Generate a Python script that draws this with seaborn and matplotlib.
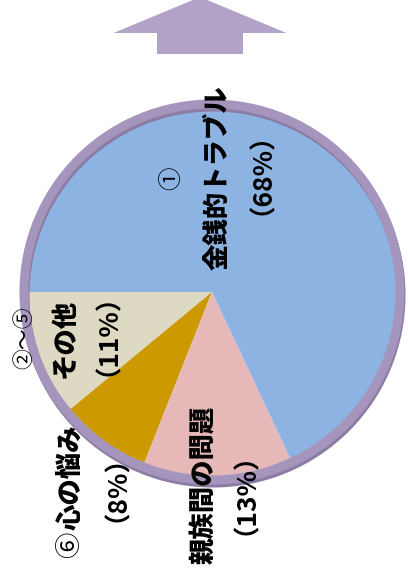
import matplotlib
matplotlib.use("Agg")
import matplotlib.pyplot as plt
from matplotlib.patches import Circle
import seaborn as sns

# data (slices in drawing order, counter-clockwise from the left)
numbers = ["②～⑤", "⑥", "", "①"]
categories = ["その他", "心の悩み", "親族間の問題", "金銭的トラブル"]
shares = [11, 8, 13, 68]
colors = ["#ddd9c3", "#cc9900", "#e6b9b8", "#8db3e2"]

sns.set_theme(style="white")
plt.rcParams['font.family'] = ['Noto Sans CJK JP', 'DejaVu Sans']
plt.rcParams['text.color'] = 'black'

W, H = 408, 573
fig = plt.figure(figsize=(W / 100, H / 100), dpi=100)
ax = fig.add_axes([0, 0, 1, 1])

cx, cy, r = 212, 292, 184
ax.pie(shares, colors=colors, startangle=180, counterclock=False,
       center=(cx, cy), radius=r, wedgeprops=dict(linewidth=0))
ax.set_xlim(0, W)
ax.set_ylim(H, 0)
ax.set_aspect('equal')
ax.axis('off')

# purple rim around the pie
ax.add_patch(Circle((cx + 1, cy + 3), r + 4, fill=False, ec="#8a7ca3", lw=6.5, zorder=3))
ax.add_patch(Circle((cx, cy), r + 4, fill=False, ec="#a595bd", lw=6.5, zorder=4))

# arrow on top
ax.arrow(200, 54, 0, -57, width=86, head_width=173, head_length=36,
         length_includes_head=True, color="#b3a2c7", lw=0, zorder=2)

# label positions (pixel coords): number, name, percent
pos = [
    ((24, 338), (64, 338), (94, 321)),
    ((70, 545), (70, 477), (103, 475)),
    (None, (204, 485), (232, 480)),
    ((172, 178), (217, 178), (248, 160)),
]
num_size = [15, 19, 0, 17]

for num, cat, val, (pn, pc, pp), ns in zip(numbers, categories, shares, pos, num_size):
    if num:
        ax.text(*pn, num, rotation=90, fontsize=ns, ha='center', va='center', zorder=5)
    ax.text(*pc, cat, rotation=90, fontsize=19, fontweight='heavy', ha='center', va='center', zorder=5)
    ax.text(*pp, f"（{val}%）", rotation=90, fontsize=19, fontweight='bold', ha='center', va='center', zorder=5)

fig.savefig("out.png", dpi=100)
